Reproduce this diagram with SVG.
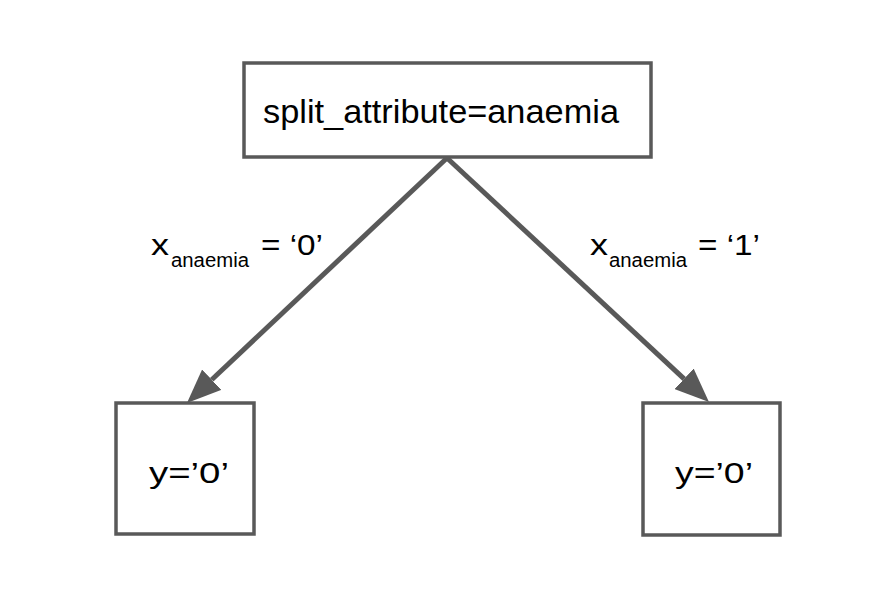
<svg xmlns="http://www.w3.org/2000/svg" width="882" height="602" viewBox="0 0 882 602">
<style>
.box{fill:#ffffff;stroke:#595959;stroke-width:3.5}
.edge{fill:none;stroke:#595959;stroke-width:5}
.t{font-family:"Liberation Sans",Arial,sans-serif;fill:#000000}
.main{font-size:34px}
.lbl{font-size:30px}
.sub{font-size:20px}
.leaf{font-size:30px}
</style>
<defs>
<marker id="ah" markerUnits="userSpaceOnUse" viewBox="0 0 34 28" markerWidth="34" markerHeight="28" refX="0" refY="14" orient="auto">
<path d="M0,0 L34,14 L0,28 z" fill="#595959"/>
</marker>
</defs>
<rect width="882" height="602" fill="#ffffff"/>
<g id="connectors">
<line class="edge" x1="447" y1="158" x2="211.7" y2="379.7" marker-end="url(#ah)"/>
<line class="edge" x1="447" y1="158" x2="684.1" y2="378.8" marker-end="url(#ah)"/>
<g id="label-left">
<text class="t lbl" x="151" y="255" textLength="18" lengthAdjust="spacingAndGlyphs">x</text>
<text class="t sub" x="171" y="267" textLength="78" lengthAdjust="spacingAndGlyphs">anaemia</text>
<text class="t lbl" x="261" y="255" textLength="62" lengthAdjust="spacingAndGlyphs">= ‘0’</text>
</g>
<g id="label-right">
<text class="t lbl" x="590" y="255" textLength="18" lengthAdjust="spacingAndGlyphs">x</text>
<text class="t sub" x="609" y="267" textLength="78" lengthAdjust="spacingAndGlyphs">anaemia</text>
<text class="t lbl" x="698" y="255" textLength="62" lengthAdjust="spacingAndGlyphs">= ‘1’</text>
</g>
</g>
<g id="root">
<rect class="box" x="244" y="63" width="407" height="94"/>
<text class="t main" x="263" y="123" textLength="356" lengthAdjust="spacingAndGlyphs">split_attribute=anaemia</text>
</g>
<g id="leaf-left">
<rect class="box" x="116" y="403" width="138" height="131"/>
<text class="t leaf" x="149" y="483" textLength="80" lengthAdjust="spacingAndGlyphs">y=’0’</text>
</g>
<g id="leaf-right">
<rect class="box" x="643" y="403" width="137" height="132"/>
<text class="t leaf" x="675" y="483" textLength="78" lengthAdjust="spacingAndGlyphs">y=’0’</text>
</g>
</svg>
